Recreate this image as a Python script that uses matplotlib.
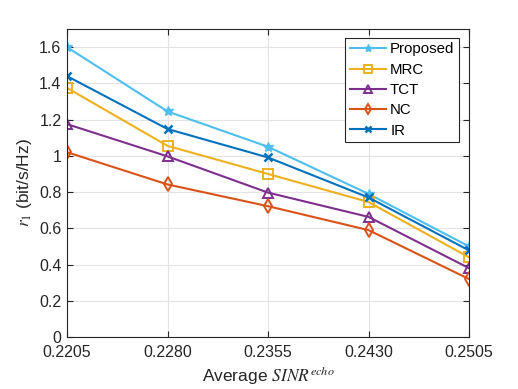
import matplotlib
matplotlib.use("Agg")
import matplotlib.pyplot as plt

plt.rcParams['font.family'] = ['Liberation Sans', 'DejaVu Sans']
plt.rcParams['mathtext.fontset'] = 'stix'

x_labels = ['0.2205', '0.2280', '0.2355', '0.2430', '0.2505']
proposed = [1.60, 1.245, 1.05, 0.79, 0.50]
mrc = [1.375, 1.055, 0.90, 0.745, 0.44]
tct = [1.175, 0.997, 0.797, 0.663, 0.38]
nc = [1.02, 0.842, 0.722, 0.59, 0.32]
ir = [1.44, 1.148, 0.991, 0.77, 0.478]

series = [
    ('Proposed', proposed, '#4DBEEE', '*'),
    ('MRC', mrc, '#EDB120', 's'),
    ('TCT', tct, '#7E2F8E', '^'),
    ('NC', nc, '#D95319', 'd'),
    ('IR', ir, '#0072BD', 'x'),
]

fig = plt.figure(figsize=(5.18, 3.89), dpi=100)
ax = fig.add_axes([67/518, 1-337/389, (469-67)/518, (337-29)/389])
xs = list(range(len(x_labels)))
for name, vals, c, m in series:
    kw = dict(color=c, marker=m, lw=1.5, label=name)
    if m in ('s', '^', 'd'):
        kw.update(markerfacecolor='none', markeredgewidth=1.4, markersize=7)
    elif m == '*':
        kw.update(markersize=7.5)
    else:
        kw.update(markersize=6, markeredgewidth=1.8)
    ax.plot(xs, vals, **kw)

ax.set_xlim(0, 4)
ax.set_ylim(0, 1.7)
ax.set_xticks(xs)
ax.set_xticklabels(x_labels)
yt = [0, 0.2, 0.4, 0.6, 0.8, 1.0, 1.2, 1.4, 1.6]
ax.set_yticks(yt)
ax.set_yticklabels(['0', '0.2', '0.4', '0.6', '0.8', '1', '1.2', '1.4', '1.6'])
ax.tick_params(direction='in', labelsize=11.5, colors='#262626', top=True, right=True, length=4)
ax.tick_params(axis='x', pad=6)
ax.tick_params(axis='y', pad=4)
ax.grid(True, color='#e3e3e3', lw=0.8)
ax.set_axisbelow(True)
for s in ax.spines.values():
    s.set_color('#262626')
    s.set_linewidth(0.8)
ax.set_xlabel('Average $\\mathit{SINR}^{echo}$', fontsize=12.5, color='#262626', labelpad=3)
ax.set_ylabel('$r_1$ (bit/s/Hz)', fontsize=12.5, color='#262626', labelpad=4)
leg = ax.legend(loc='upper right', bbox_to_anchor=(1-10/402, 1-9/308), fontsize=10.8,
                fancybox=False, framealpha=1, edgecolor='#262626', borderpad=0.3,
                handlelength=2.4, labelspacing=0.42, handletextpad=0.3, borderaxespad=0,
                markerscale=0.8)
leg.get_frame().set_linewidth(0.8)
fig.savefig('out.png', dpi=100)
